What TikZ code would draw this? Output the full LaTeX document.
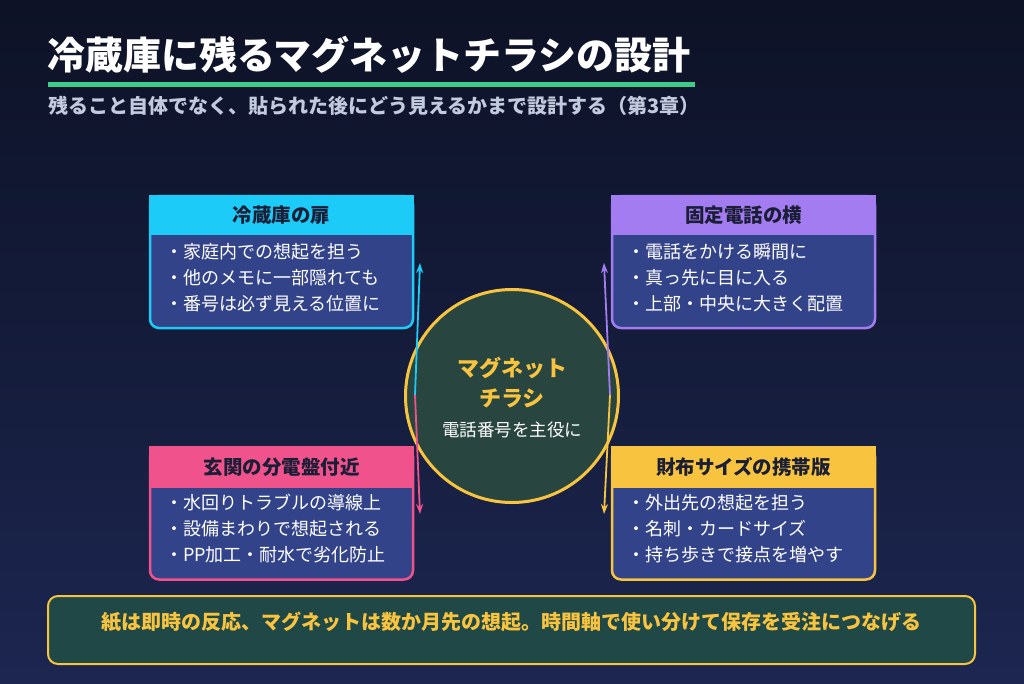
\documentclass[tikz,border=0pt]{standalone}
\usepackage{fontspec}
\setmainfont{Noto Sans CJK JP}
\usetikzlibrary{arrows.meta,calc}
\definecolor{bgtop}{HTML}{0D1226}
\definecolor{bgbot}{HTML}{1C2650}
\definecolor{ccyan}{HTML}{1CCBF8}
\definecolor{cpurple}{HTML}{A47CF2}
\definecolor{cpink}{HTML}{F0528C}
\definecolor{cyellow}{HTML}{F8C440}
\definecolor{cbody}{HTML}{33438A}
\definecolor{ccircle}{HTML}{28463F}
\definecolor{cbanner}{HTML}{1F4846}
\definecolor{cgreen}{HTML}{3DCC8A}
\definecolor{csub}{HTML}{C2CADE}
\definecolor{chead}{HTML}{1A1E36}
\begin{document}
\begin{tikzpicture}[x=1pt,y=-1pt,
  infobox/.style={draw, line width=2.5pt, fill=cbody, rounded corners=9pt,
    minimum width=263pt, minimum height=132pt, inner sep=0pt, outer sep=0pt},
  headtext/.style={font=\fontsize{19.5}{21}\selectfont\bfseries, text=chead, inner sep=0pt},
  bodytext/.style={font=\fontsize{18}{26}\selectfont, text=white, align=left, anchor=west, inner sep=0pt},
  conn/.style={line width=1.8pt, -{Stealth[length=10pt,width=7pt]}}
]
\shade[top color=bgtop, bottom color=bgbot] (0,0) rectangle (1024,683);
\useasboundingbox (0,0) rectangle (1024,683);

% title
\node[anchor=west, inner sep=0pt, text=white, font=\fontsize{38}{40}\selectfont\bfseries] (title) at (47,55) {冷蔵庫に残るマグネットチラシの設計};
\fill[cgreen] (48,82) rectangle (695,87);
\node[anchor=west, inner sep=0pt, text=csub, font=\fontsize{20}{22}\selectfont\bfseries] (sub) at (48,106) {残ること自体でなく、貼られた後にどう見えるかまで設計する（第3章）};

% boxes
\node[infobox, draw=ccyan] (tl) at (281.5,262) {};
\fill[ccyan] ($(tl.north west)+(-1.25,-1.25)$) rectangle ($(tl.north east)+(1.25,39)$);
\node[headtext] (tlh) at (281.5,215) {冷蔵庫の扉};
\node[bodytext] (tlb) at (165,278) {・家庭内での想起を担う\\・他のメモに一部隠れても\\・番号は必ず見える位置に};

\node[infobox, draw=cpurple] (tr) at (743.5,262) {};
\fill[cpurple] ($(tr.north west)+(-1.25,-1.25)$) rectangle ($(tr.north east)+(1.25,39)$);
\node[headtext] (trh) at (743.5,215) {固定電話の横};
\node[bodytext] (trb) at (627,278) {・電話をかける瞬間に\\・真っ先に目に入る\\・上部・中央に大きく配置};

\node[infobox, draw=cpink] (bl) at (281.5,513.5) {};
\fill[cpink] ($(bl.north west)+(-1.25,-1.25)$) rectangle ($(bl.north east)+(1.25,40)$);
\node[headtext] (blh) at (281.5,467) {玄関の分電盤付近};
\node[bodytext] (blb) at (165,529) {・水回りトラブルの導線上\\・設備まわりで想起される\\・PP加工・耐水で劣化防止};

\node[infobox, draw=cyellow] (br) at (743.5,513.5) {};
\fill[cyellow] ($(br.north west)+(-1.25,-1.25)$) rectangle ($(br.north east)+(1.25,40)$);
\node[headtext] (brh) at (743.5,467) {財布サイズの携帯版};
\node[bodytext] (brb) at (627,529) {・外出先の想起を担う\\・名刺・カードサイズ\\・持ち歩きで接点を増やす};

% center circle
\node[circle, draw=cyellow, fill=ccircle, line width=3pt, minimum size=213pt, inner sep=0pt] (mid) at (512,396) {};
\node[text=cyellow, font=\fontsize{22}{24}\selectfont\bfseries, inner sep=0pt] (m1) at (512,368) {マグネット};
\node[text=cyellow, font=\fontsize{22}{24}\selectfont\bfseries, inner sep=0pt] (m2) at (512,398) {チラシ};
\node[text=white, font=\fontsize{17.5}{19}\selectfont, inner sep=0pt] (m3) at (512,430) {電話番号を主役に};

% connectors
\coordinate (lstart) at ($(mid.center)+(-97,-1)$);
\coordinate (rstart) at ($(mid.center)+(98,-1)$);
\coordinate (tlend) at (420,263);
\coordinate (blend) at (420,514);
\coordinate (trend) at (604,263);
\coordinate (brend) at (604,514);
\draw[conn, ccyan] (lstart) -- (tlend);
\draw[conn, cpink] (lstart) -- (blend);
\draw[conn, cpurple] (rstart) -- (trend);
\draw[conn, cyellow] (rstart) -- (brend);

% banner
\node[draw=cyellow, fill=cbanner, line width=2pt, rounded corners=10pt, minimum width=927pt, minimum height=68pt, inner sep=0pt] (banner) at (511.5,630) {};
\node[text=cyellow, font=\fontsize{20}{22}\selectfont\bfseries, inner sep=0pt] (bannertext) at (511.5,622) {紙は即時の反応、マグネットは数か月先の想起。時間軸で使い分けて保存を受注につなげる};
\end{tikzpicture}
\end{document}
